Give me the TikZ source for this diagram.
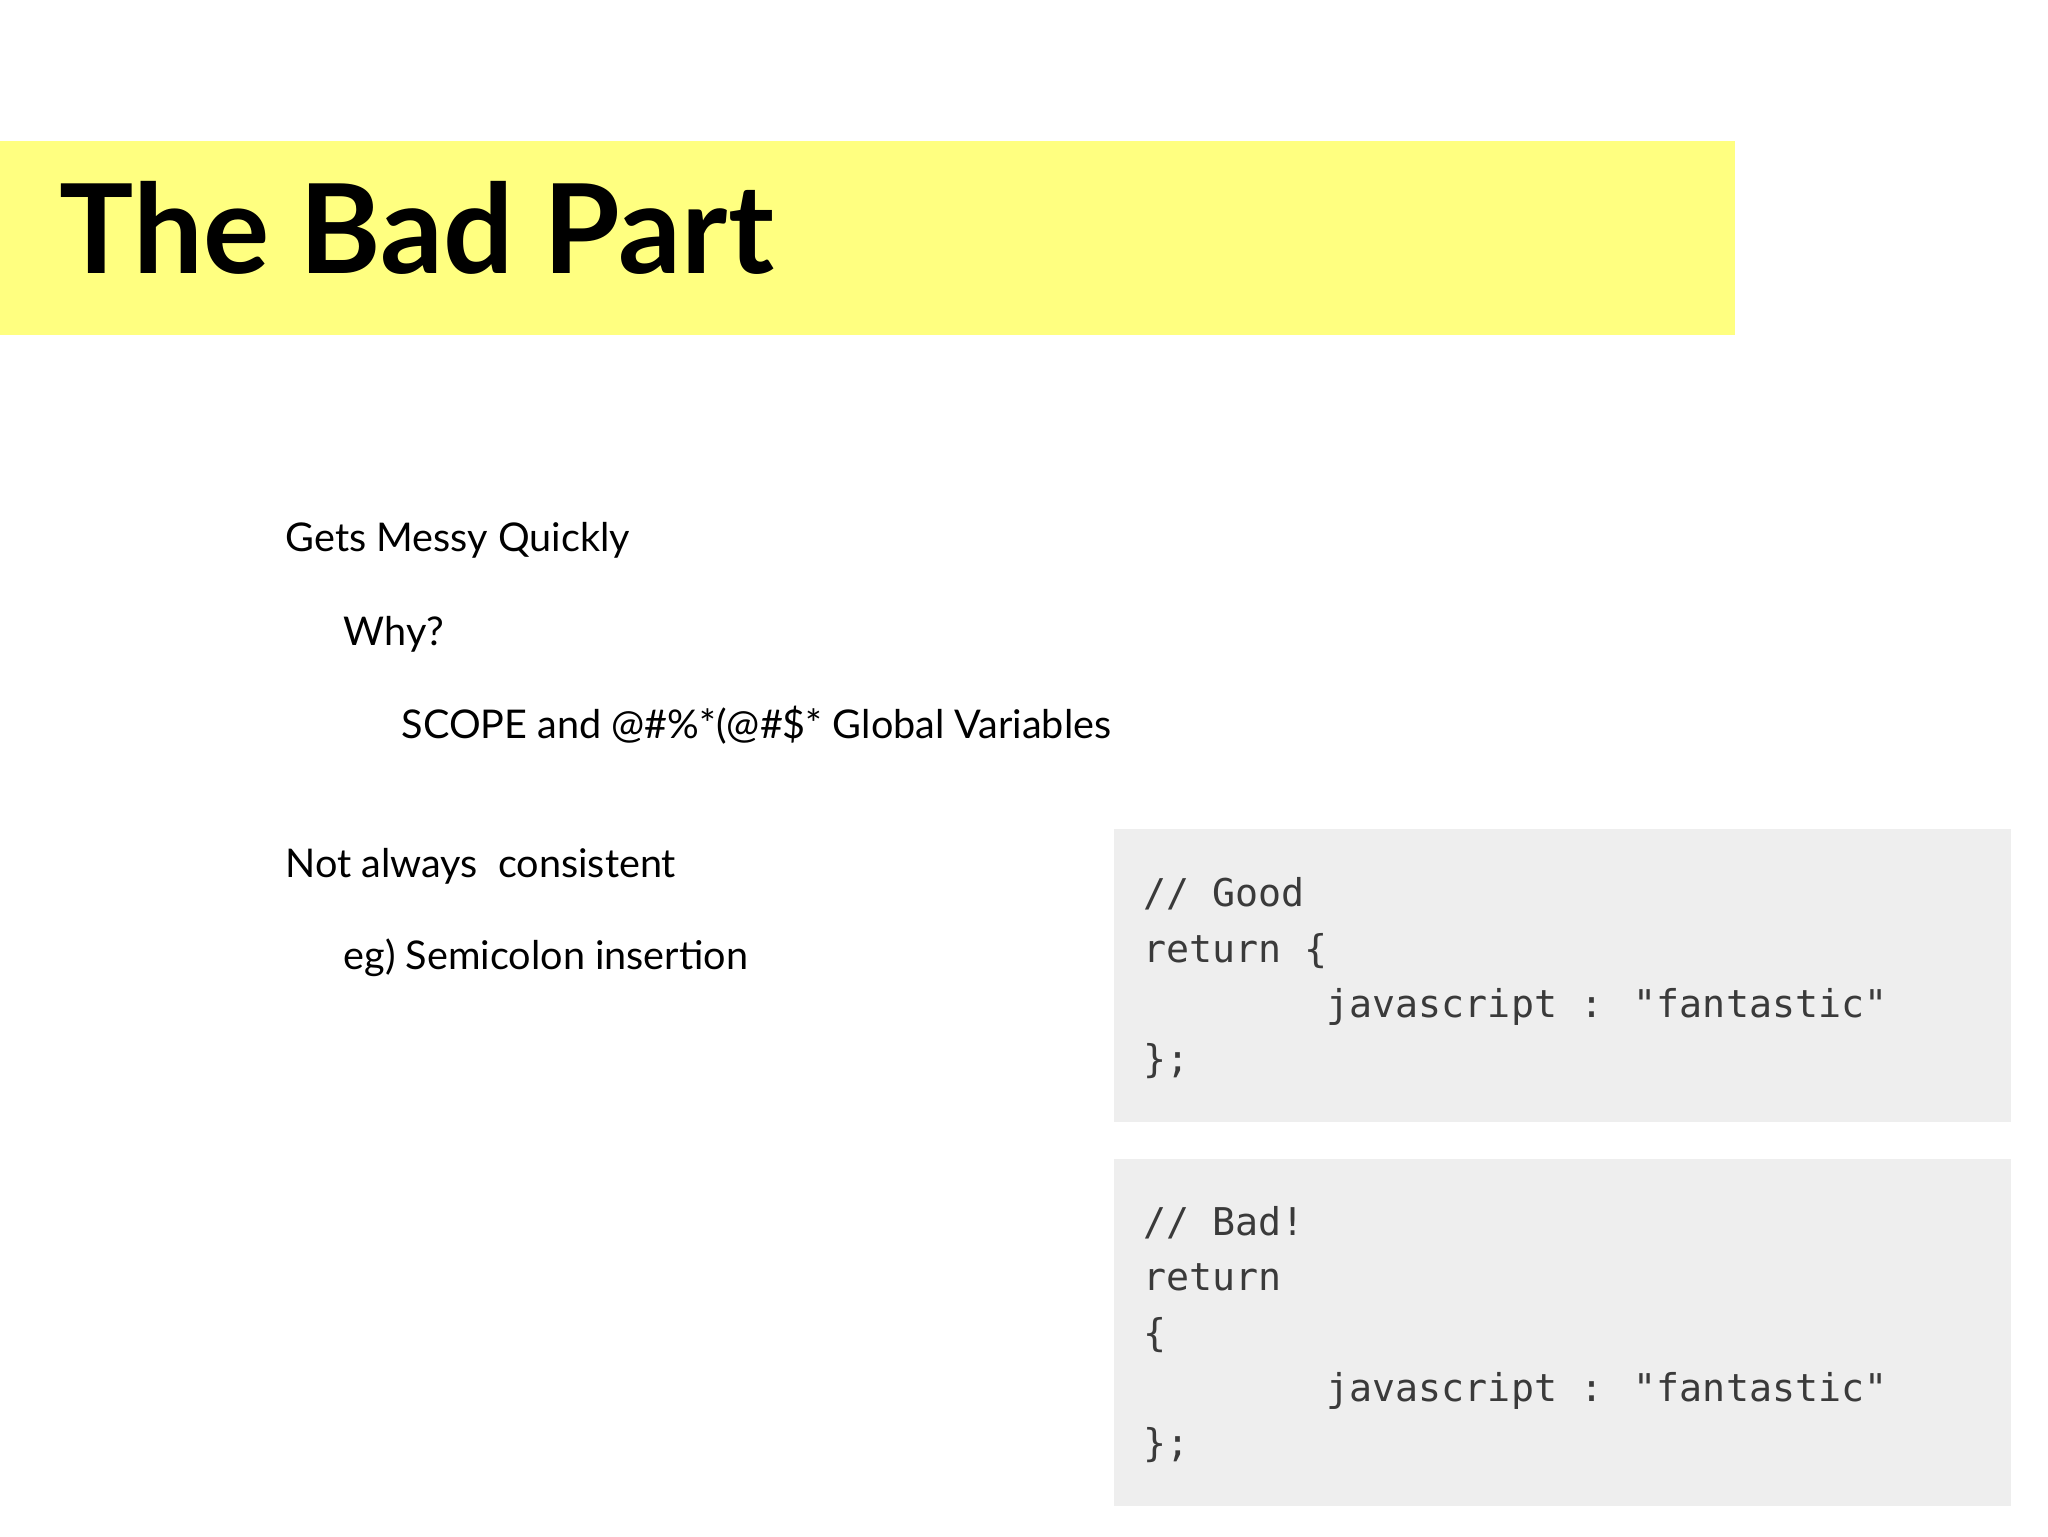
\documentclass[tikz,border=0pt]{standalone}
\usepackage{fontspec}
\setmainfont{Lato}
\newfontfamily\codefont{DejaVu Sans Mono}
\definecolor{band}{HTML}{FFFF80}
\definecolor{codebg}{HTML}{EEEEEE}
\definecolor{codefg}{HTML}{3A3A3A}
\begin{document}
\begin{tikzpicture}[x=0.5pt,y=-0.5pt,
  body/.style={anchor=base west,inner sep=0pt,font=\fontsize{15}{18}\selectfont},
  code/.style={anchor=base west,inner sep=0pt,text=codefg,font=\codefont\fontsize{14.5}{17}\selectfont}]
\useasboundingbox[fill=white] (0,0) rectangle (1552,1164);
\fill[band] (0,107) rectangle (1315,254);
\node[anchor=base west,inner sep=0pt,font=\bfseries\fontsize{47}{50}\selectfont] (title) at (45,207) {The Bad Part};
\node[body] (t1) at (216,418) {Gets Messy Quickly};
\node[body] (t2) at (260,489) {Why?};
\node[body] (t3) at (304,560) {SCOPE and @\#\%*(@\#\$* Global Variables};
\node[body] (t4) at (216,665) {Not always\ \ consistent};
\node[body] (t5) at (260,735) {eg) Semicolon insertion};
\fill[codebg] (844,628) rectangle (1524,850);
\fill[codebg] (844,878) rectangle (1524,1141);
\node[code] (a1) at (866,687) {// Good};
\node[code] (a2) at (866,729) {return \{};
\node[code] (a3) at (1005,771) {javascript : "fantastic"};
\node[code] (a4) at (866,813) {\};};
\node[code] (b1) at (866,936) {// Bad!};
\node[code] (b2) at (866,978) {return};
\node[code] (b3) at (866,1020) {\{};
\node[code] (b4) at (1005,1062) {javascript : "fantastic"};
\node[code] (b5) at (866,1104) {\};};
\end{tikzpicture}
\end{document}
